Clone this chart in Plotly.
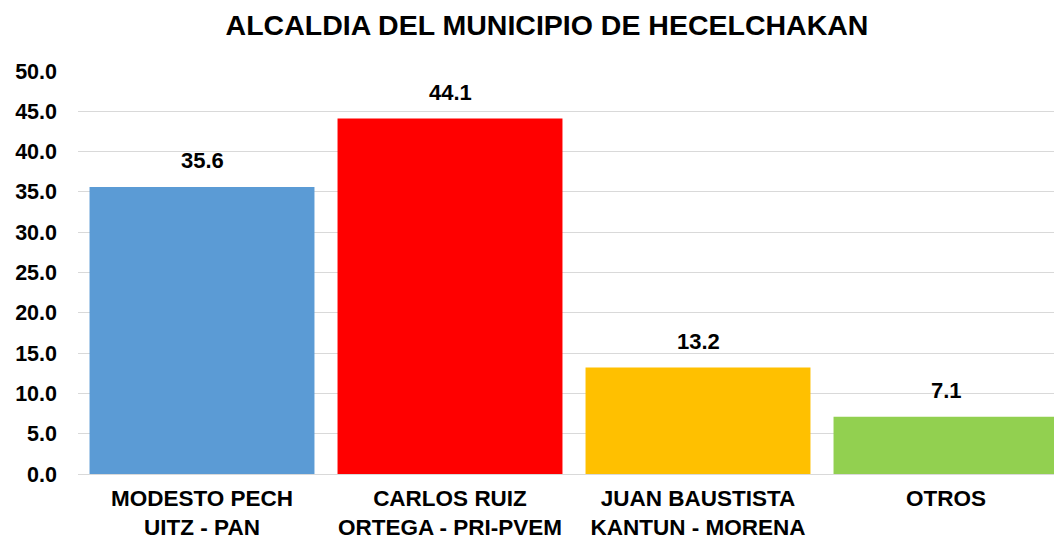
import plotly.graph_objects as go

categories = ["MODESTO PECH<br>UITZ - PAN", "CARLOS RUIZ<br>ORTEGA - PRI-PVEM",
              "JUAN BAUSTISTA<br>KANTUN - MORENA", "OTROS"]
values = [35.6, 44.1, 13.2, 7.1]
colors = ["#5B9BD5", "#FF0000", "#FFC000", "#92D050"]
tick_vals = [0, 5, 10, 15, 20, 25, 30, 35, 40, 45, 50]
tick_text = [f"{v:.1f}" for v in tick_vals]

FONT = "Liberation Sans, Arial, sans-serif"

fig = go.Figure()
fig.add_trace(go.Bar(x=list(range(len(categories))), y=values, marker_color=colors,
                     marker_line_width=0, hoverinfo="skip"))

for i, v in enumerate(values):
    fig.add_annotation(x=i, y=v, text=f"<b>{v:.1f}</b>", showarrow=False, yanchor="bottom",
                       yshift=12, font=dict(family=FONT, size=22, color="#000000"))

fig.update_layout(
    width=1062, height=544,
    margin=dict(l=70, r=0, t=63, b=78, autoexpand=False),
    paper_bgcolor="white", plot_bgcolor="white",
    bargap=0.093,
    showlegend=False,
    title=dict(text="<b>ALCALDIA DEL MUNICIPIO DE HECELCHAKAN</b>", x=539 / 1062, xanchor="center",
               xref="container", y=1 - 17 / 544, yref="container", yanchor="middle",
               font=dict(family=FONT, size=28.5, color="#000000")),
    xaxis=dict(range=[-0.5, 3.5], tickvals=list(range(len(categories))),
               ticktext=[f"<b>{c}</b>" for c in categories], showgrid=False,
               showline=False, zeroline=False, ticks="", ticklabelstandoff=8,
               tickfont=dict(family=FONT, size=22.5, color="#000000")),
    yaxis=dict(range=[0, 50], tickvals=tick_vals, ticktext=[f"<b>{t}</b>" for t in tick_text],
               showgrid=True, gridcolor="#D9D9D9", gridwidth=1, zeroline=True,
               zerolinecolor="#D9D9D9", zerolinewidth=1, showline=False, ticks="",
               ticklabelstandoff=20,
               tickfont=dict(family=FONT, size=21.5, color="#000000")),
)

fig.write_html("out.html")
